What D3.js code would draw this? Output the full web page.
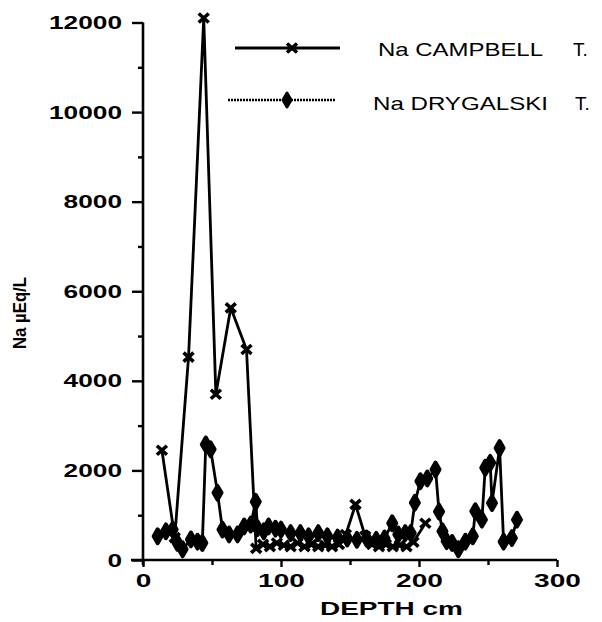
<!DOCTYPE html>
<html>
<head>
<meta charset="utf-8">
<script src="https://cdn.jsdelivr.net/npm/d3@7"></script>
<style>
  html, body { margin: 0; padding: 0; background: #fff; }
  #plot { width: 602px; height: 622px; }
</style>
</head>
<body>
<div id="plot"></div>
<script>
// Na concentration vs depth, two firn cores
const campbellDepth = [13.7, 23, 33, 44, 52.8, 63.6, 75, 82, 87, 92, 97, 102, 107, 112, 117, 122, 127, 132, 137, 142, 147, 154, 161, 166, 171, 176, 181, 186, 191, 196, 204.6];
const campbellNa = [2450, 500, 4530, 12100, 3700, 5630, 4700, 260, 350, 300, 380, 330, 300, 380, 300, 350, 300, 330, 300, 350, 570, 1240, 530, 350, 300, 350, 300, 330, 300, 400, 820];

const drygalskiDepth = [10.6, 16.6, 21.5, 25, 28.7, 34.7, 39.5, 43, 45.5, 49, 54, 57.6, 62.4, 68.5, 73.3, 78, 81.7, 83, 87.5, 91, 96, 100, 107, 114, 120, 127, 133.6, 141, 148, 155, 162, 169, 175, 180.6, 185, 190, 194, 197, 201, 206, 212, 214.5, 217, 220, 224, 228.5, 233.6, 239, 240.8, 245.6, 248, 251.6, 252.9, 258.4, 261.3, 267.3, 271];
const drygalskiNa = [530, 640, 680, 380, 240, 460, 410, 380, 2580, 2470, 1500, 680, 570, 570, 750, 790, 1300, 710, 640, 750, 700, 680, 600, 600, 530, 600, 530, 500, 480, 450, 480, 450, 480, 820, 570, 600, 600, 1280, 1760, 1820, 2020, 1080, 640, 420, 380, 240, 410, 530, 1090, 900, 2060, 2170, 1270, 2500, 410, 490, 900];

const xMajor = [0, 100, 200, 300];
const xMinor = [50, 150, 250];
const yMajor = [0, 2000, 4000, 6000, 8000, 10000, 12000];
const yMinor = [1000, 3000, 5000, 7000, 9000, 11000];

const seriesNames = ['Na CAMPBELL', 'Na DRYGALSKI'];

const W = 602, H = 622;
const svg = d3.select('#plot').append('svg').attr('width', W).attr('height', H);

const x = d3.scaleLinear().domain([0, 300]).range([143, 557]);
const y = d3.scaleLinear().domain([0, 12000]).range([560, 22.5]);

const font = 'Liberation Sans, Arial, sans-serif';

// y axis
const yAxis = svg.append('g').attr('transform', `translate(${x(0)},0)`)
  .call(d3.axisLeft(y).tickValues(yMajor).tickSize(11).tickPadding(10).tickFormat(d3.format('d')));
svg.append('g').attr('transform', `translate(${x(0)},0)`)
  .call(d3.axisLeft(y).tickValues(yMinor).tickSize(5).tickFormat(''))
  .select('.domain').remove();

// x axis
const xAxis = svg.append('g').attr('transform', `translate(0,${y(0)})`)
  .call(d3.axisBottom(x).tickValues(xMajor).tickSize(7).tickPadding(7).tickFormat(d3.format('d')));
svg.append('g').attr('transform', `translate(0,${y(0)})`)
  .call(d3.axisBottom(x).tickValues(xMinor).tickSize(5).tickFormat(''))
  .select('.domain').remove();

svg.selectAll('.domain').attr('stroke', '#000').attr('stroke-width', 2.6);
svg.selectAll('.tick line').attr('stroke', '#000').attr('stroke-width', 2.4);
// axis lines cross slightly at the origin
yAxis.select('.domain').attr('d', `M0,${y(12000)}V${y(0) + 5}`);
xAxis.select('.domain').attr('d', `M${x(0) - 12},0H${x(300)}`);

// wide, heavy digits like the scanned original
yAxis.selectAll('.tick text')
  .attr('font-family', font).attr('font-size', 19).attr('font-weight', 'bold').attr('fill', '#000')
  .attr('textLength', (d) => String(d).length * 14.6).attr('lengthAdjust', 'spacingAndGlyphs');
xAxis.selectAll('.tick text')
  .attr('font-family', font).attr('font-size', 18).attr('font-weight', 'bold').attr('fill', '#000')
  .attr('textLength', (d) => String(d).length * 15.6).attr('lengthAdjust', 'spacingAndGlyphs');

// axis titles
svg.append('text')
  .attr('transform', `translate(26,313) rotate(-90)`)
  .attr('text-anchor', 'middle')
  .attr('font-family', font)
  .attr('font-weight', 'bold').attr('font-size', 19)
  .attr('textLength', 72).attr('lengthAdjust', 'spacingAndGlyphs')
  .text('Na  \u00B5Eq/L');

svg.append('text')
  .attr('x', 320).attr('y', 615)
  .attr('font-family', font)
  .attr('font-weight', 'bold').attr('font-size', 18)
  .attr('textLength', 143).attr('lengthAdjust', 'spacingAndGlyphs')
  .text('DEPTH  cm');

// series
const line = d3.line().x((d) => x(d[0])).y((d) => y(d[1]));
const campbell = d3.zip(campbellDepth, campbellNa);
const drygalski = d3.zip(drygalskiDepth, drygalskiNa);

const plot = svg.append('g');
plot.append('path').datum(drygalski).attr('d', line)
  .attr('fill', 'none').attr('stroke', '#000').attr('stroke-width', 2.8).attr('stroke-linejoin', 'round');
plot.append('path').datum(campbell).attr('d', line)
  .attr('fill', 'none').attr('stroke', '#000').attr('stroke-width', 2.8).attr('stroke-linejoin', 'round');

const diamond = d3.symbol().type(d3.symbolDiamond).size(55);
plot.selectAll('.dry').data(drygalski).enter().append('path')
  .attr('class', 'dry')
  .attr('transform', (d) => `translate(${x(d[0])},${y(d[1])})`)
  .attr('d', diamond)
  .attr('fill', '#000').attr('stroke', '#000').attr('stroke-width', 4).attr('stroke-linejoin', 'round');

const cross = 'M-5,-4.5L5,4.5M-5,4.5L5,-4.5';
plot.selectAll('.camp').data(campbell).enter().append('path')
  .attr('class', 'camp')
  .attr('transform', (d) => `translate(${x(d[0])},${y(d[1])})`)
  .attr('d', cross)
  .attr('fill', 'none').attr('stroke', '#000').attr('stroke-width', 3.6);

// legend
const legend = svg.append('g');
legend.append('line').attr('x1', 235).attr('x2', 340).attr('y1', 48).attr('y2', 48)
  .attr('stroke', '#000').attr('stroke-width', 2.8);
legend.append('path').attr('transform', 'translate(292,48)').attr('d', cross)
  .attr('stroke', '#000').attr('stroke-width', 3.6);
legend.append('line').attr('x1', 228).attr('x2', 335).attr('y1', 100).attr('y2', 100)
  .attr('stroke', '#000').attr('stroke-width', 2.6).attr('stroke-dasharray', '2,1');
legend.append('path').attr('transform', 'translate(287,100)').attr('d', diamond)
  .attr('fill', '#000').attr('stroke', '#000').attr('stroke-width', 3).attr('stroke-linejoin', 'round');

const legendText = [
  { name: seriesNames[0], x: 378, y: 56, len: 165, tx: 573 },
  { name: seriesNames[1], x: 373, y: 110, len: 175, tx: 575 },
];
legendText.forEach((t) => {
  legend.append('text').attr('x', t.x).attr('y', t.y)
    .attr('font-family', font).attr('font-size', 19)
    .attr('textLength', t.len).attr('lengthAdjust', 'spacingAndGlyphs')
    .text(t.name);
  legend.append('text').attr('x', t.tx).attr('y', t.y)
    .attr('font-family', font).attr('font-size', 19)
    .text('T.');
});
</script>
</body>
</html>
